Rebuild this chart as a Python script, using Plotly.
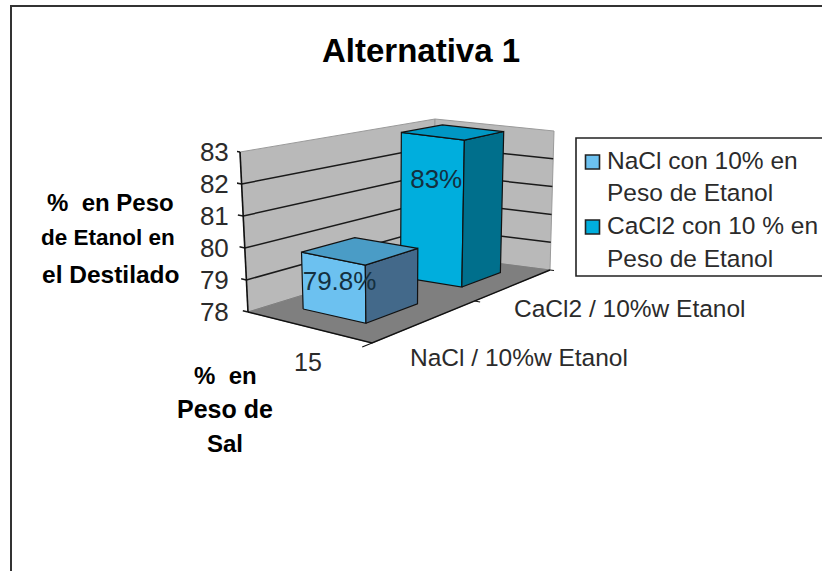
import numpy as np
import plotly.graph_objects as go

# Chart content
title = "Alternativa 1"
value_ticks = [78, 79, 80, 81, 82, 83]
series_names = [["NaCl con 10% en", "Peso de Etanol"], ["CaCl2 con 10 % en", "Peso de Etanol"]]
series_axis_labels = ["NaCl / 10%w Etanol", "CaCl2 / 10%w Etanol"]
salt_category = "15"
series_values = [79.8, 83]

FONT = "Liberation Sans"
W, H = 822, 571
V_MIN, V_MAX = value_ticks[0], value_ticks[-1]
PX_PER_UNIT = 32.0
BASE_PX = 312.0


def homography(a, b, c, d):
    """Map the unit square (s, t) onto the quad a(0,0) b(1,0) c(1,1) d(0,1)."""
    src = [(0, 0), (1, 0), (1, 1), (0, 1)]
    A, r = [], []
    for (s, t), (x, y) in zip(src, [a, b, c, d]):
        A.append([s, t, 1, 0, 0, 0, -s * x, -t * x]); r.append(x)
        A.append([0, 0, 0, s, t, 1, -s * y, -t * y]); r.append(y)
    h = np.append(np.linalg.solve(np.array(A, float), np.array(r, float)), 1).reshape(3, 3)

    def f(s, t):
        p = h @ np.array([s, t, 1.0])
        return p[:2] / p[2]
    return f


# Perspective box: floor and ceiling of the 3-D plot volume
floor = homography((248, 312), (372, 343), (550, 270), (433, 255))
ceiling = homography((240, 152), (370, 175), (554, 131), (435, 119))


def project(s, t, v):
    """Project (category position, series depth, value) to x and axis-value y."""
    p0, p1 = floor(s, t), ceiling(s, t)
    px = p0 + (v - V_MIN) / (V_MAX - V_MIN) * (p1 - p0)
    return px[0], V_MIN + (BASE_PX - px[1]) / PX_PER_UNIT


fig = go.Figure()


def poly(points, fill=None, line="#111111", width=1.2):
    xs, ys = zip(*[project(*p) for p in points])
    fig.add_trace(go.Scatter(
        x=list(xs), y=list(ys), mode="lines", showlegend=False, hoverinfo="skip",
        line=dict(color=line, width=width),
        fill="toself" if fill else None, fillcolor=fill))


# Walls and floor
WALL, FLOOR, WALL_EDGE = "#b9b9b9", "#7f7f7f", "#9a9a9a"
poly([(0, 0, V_MIN), (0, 1, V_MIN), (0, 1, V_MAX), (0, 0, V_MAX), (0, 0, V_MIN)], WALL, WALL_EDGE, 1)
poly([(0, 1, V_MIN), (1, 1, V_MIN), (1, 1, V_MAX), (0, 1, V_MAX), (0, 1, V_MIN)], WALL, WALL_EDGE, 1)
poly([(0, 0, V_MIN), (1, 0, V_MIN), (1, 1, V_MIN), (0, 1, V_MIN), (0, 0, V_MIN)], FLOOR, FLOOR, 1)

# Gridlines across both walls, with ticks on the value axis
for v in value_ticks[1:-1]:
    poly([(0, 0, v), (0, 1, v), (1, 1, v)], None, "#1a1a1a", 1.5)
for v in value_ticks:
    poly([(-0.05, 0, v), (0, 0, v)], None, "#1a1a1a", 1.5)

# Axis lines and floor ticks
poly([(0, 0, V_MIN), (0, 0, V_MAX)], None, "#111111", 1.6)
poly([(0, 0, V_MIN), (1, 0, V_MIN), (1, 1, V_MIN)], None, "#111111", 1.4)
poly([(1, 0, V_MIN), (1.0, -0.04, V_MIN)], None, "#111111", 1.2)
poly([(1, 0.5, V_MIN), (1.04, 0.5, V_MIN)], None, "#111111", 1.2)
poly([(1, 1, V_MIN), (1.03, 1, V_MIN)], None, "#111111", 1.2)

# Bars, farthest series first
bar_styles = {
    0: dict(front="#6cc1f0", top="#4a9cc6", side="#43698a", depth=(0.125, 0.375)),
    1: dict(front="#00aedd", top="#0097c4", side="#006f8c", depth=(0.625, 0.875)),
}
S0, S1 = 0.24, 0.75
for i in (1, 0):
    st = bar_styles[i]
    v = series_values[i]
    t0, t1 = st["depth"]
    poly([(S0, t0, V_MIN), (S1, t0, V_MIN), (S1, t0, v), (S0, t0, v), (S0, t0, V_MIN)], st["front"])
    poly([(S1, t0, V_MIN), (S1, t1, V_MIN), (S1, t1, v), (S1, t0, v), (S1, t0, V_MIN)], st["side"])
    poly([(S0, t0, v), (S1, t0, v), (S1, t1, v), (S0, t1, v), (S0, t0, v)], st["top"])

# Value labels on the front face of each bar
label_height = {0: 0.56, 1: 0.69}
label_shift = {0: 7, 1: 5}
for i, v in enumerate(series_values):
    t0 = bar_styles[i]["depth"][0]
    x, y = project((S0 + S1) / 2, t0, V_MIN + (v - V_MIN) * label_height[i])
    fig.add_trace(go.Scatter(
        x=[x + label_shift[i]], y=[y], mode="text", text=[f"{v}%"], showlegend=False, hoverinfo="skip",
        textposition="middle center", textfont=dict(family=FONT, size=26, color="#14303f")))


def text(x, y, s, size, bold=False, anchor="center", color="#2b2b2b"):
    fig.add_annotation(
        xref="paper", yref="paper", x=x / W, y=1 - y / H, text=f"<b>{s}</b>" if bold else s,
        showarrow=False, xanchor=anchor, yanchor="middle", align="center",
        font=dict(family=FONT, size=size, color="#000000" if bold else color))


text(421, 51, title, 33, bold=True)
text(110, 202, "%  en Peso", 24, bold=True)
text(108, 238, "de Etanol en", 22.5, bold=True)
text(111, 274, "el Destilado", 24.5, bold=True)
text(225, 376, "%  en", 24, bold=True)
text(225, 409, "Peso de", 25, bold=True)
text(225, 443, "Sal", 24, bold=True)
text(308, 362, salt_category, 25)
text(519, 357, series_axis_labels[0], 24.5)
text(630, 308, series_axis_labels[1], 24.5)

# Key box with a swatch beside the first line of each entry
key_shapes = [dict(type="rect", xref="paper", yref="paper", x0=576 / W, x1=1.02, y0=1 - 276 / H, y1=1 - 138 / H,
                   line=dict(color="#222222", width=1.6), fillcolor="white", layer="below")]
key_rows = [(160, 192), (225, 258)]
for i, (lines, rows) in enumerate(zip(series_names, key_rows)):
    for line_text, row in zip(lines, rows):
        text(605, row, line_text, 24.5, anchor="left")
    swatch_y = rows[0] + 2
    key_shapes.append(dict(type="rect", xref="paper", yref="paper",
                           x0=585.5 / W, x1=599.5 / W, y0=1 - (swatch_y + 7) / H, y1=1 - (swatch_y - 7) / H,
                           line=dict(color="#222222", width=1.6), fillcolor=bar_styles[i]["front"]))

# Axes: the value axis carries real ticks, the horizontal one is plot-space only
PLOT_TOP, PLOT_BOTTOM, PLOT_LEFT, PLOT_RIGHT = 100, 360, 237, 570
fig.update_layout(
    width=W, height=H, margin=dict(l=0, r=0, t=0, b=0), showlegend=False,
    paper_bgcolor="white", plot_bgcolor="rgba(0,0,0,0)",
    xaxis=dict(domain=[PLOT_LEFT / W, PLOT_RIGHT / W], range=[PLOT_LEFT, PLOT_RIGHT], visible=False),
    yaxis=dict(
        domain=[1 - PLOT_BOTTOM / H, 1 - PLOT_TOP / H],
        range=[V_MIN + (BASE_PX - PLOT_BOTTOM) / PX_PER_UNIT, V_MIN + (BASE_PX - PLOT_TOP) / PX_PER_UNIT],
        tickvals=value_ticks, showgrid=False, zeroline=False, showline=False,
        ticks="outside", ticklen=2, tickcolor="rgba(0,0,0,0)",
        tickfont=dict(family=FONT, size=26, color="#2b2b2b")),
    shapes=[dict(type="rect", xref="paper", yref="paper", x0=11 / W, x1=1.02, y0=-0.02, y1=1 - 6 / H,
                 line=dict(color="#333333", width=2), layer="below")] + key_shapes,
)

fig.write_html("out.html")
